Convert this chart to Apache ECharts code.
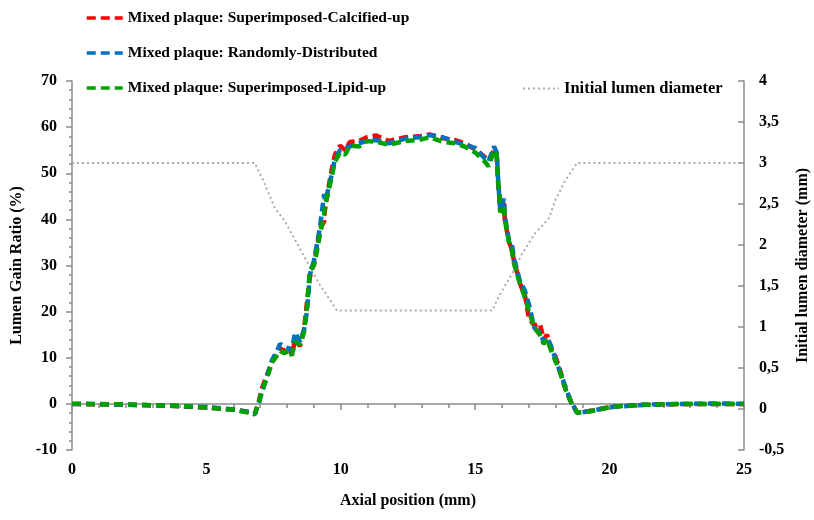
<!DOCTYPE html>
<html lang="en">
<head>
  <meta charset="UTF-8">
  <title>Lumen gain ratio</title>
  <style>
    html, body { margin: 0; padding: 0; background: #fff; }
    #main { width: 814px; height: 520px; }
  </style>
</head>
<body>
  <div id="main"></div>
  <script src="https://cdn.jsdelivr.net/npm/echarts@6/dist/echarts.min.js"></script>
  <script>
    // axial positions (mm), shared by the three plaque curves
    var pos = [0, 1, 2, 3, 4, 5, 6, 6.6, 6.8, 6.95,
      7.07, 7.25, 7.44, 7.63, 7.74, 7.89, 8.07, 8.18, 8.3, 8.48,
      8.63, 8.74, 8.85, 9.0, 9.11, 9.23, 9.38, 9.41, 9.56, 9.67,
      9.78, 9.97, 10.16, 10.34, 10.68, 10.97, 11.3, 11.8, 12.4, 12.9,
      13.3, 13.8, 14.25, 14.6, 15.0, 15.36, 15.5, 15.7, 15.8, 15.85,
      15.9, 15.93, 16.07, 16.1, 16.18, 16.26, 16.37, 16.44, 16.56, 16.67,
      16.85, 17.0, 17.2, 17.4, 17.55, 17.67, 17.86, 17.97, 18.15, 18.34,
      18.53, 18.79, 19.2, 20.1, 21.3, 22, 23, 24, 25];

    // lumen gain ratio (%)
    var calcified = [0, -0.1, -0.2, -0.3, -0.5, -0.8, -1.2, -1.8, -2.2, 0.5,
      3.5, 6.2, 9, 11, 12, 11.5, 12.5, 10.5, 14, 12.5,
      16, 22, 27.5, 30.5, 34, 38, 39.5, 42, 47.5, 51,
      54, 56, 55, 56.8, 57, 57.8, 58.2, 57, 57.8, 58,
      58.4, 57.6, 57.2, 56.5, 55.2, 53.5, 52.8, 55, 54, 48,
      45, 42.5, 43.5, 40, 37.5, 35, 33.5, 31, 28.5, 26,
      23.5, 18.5, 17, 17.5, 14, 15, 11.5, 10.5, 7.5, 3.5,
      0.8, -1.9, -1.6, -0.6, -0.2, -0.1, 0, 0, 0];
    var randomly = [0, 0, -0.2, -0.3, -0.5, -0.7, -1.2, -1.8, -2.3, 0.2,
      2.5, 6, 9.5, 11.5, 13, 12.5, 12, 11.5, 15.5, 13.5,
      16, 20, 28, 31, 34.5, 38.5, 45.5, 44, 47, 50,
      53, 55, 55.5, 55.8, 56.5, 57, 57.2, 56.5, 57.5, 57.8,
      58.3, 57.8, 56.8, 56.2, 55.5, 53.2, 52.5, 55.8, 54.5, 49,
      44.5, 42, 44.5, 41, 38, 35.5, 34.5, 31.5, 29, 26.5,
      24.5, 21.5, 16.5, 15.5, 13.5, 14.5, 12, 10, 7, 4,
      1, -2, -1.6, -0.7, -0.2, -0.1, 0, 0.1, 0];
    var lipid = [0, -0.1, -0.1, -0.3, -0.4, -0.8, -1.3, -1.9, -2.2, 0.3,
      3, 5.5, 9, 10.5, 11.5, 11, 11.5, 10.5, 13.5, 12.8,
      15.5, 21, 29, 30, 33, 37, 41, 43, 46.5, 49.5,
      52.5, 54.5, 54, 56, 55.8, 57, 56.8, 56.2, 57, 57.2,
      57.8, 56.8, 56.5, 55.8, 54.5, 52.5, 51.5, 55, 54, 48.5,
      45, 41.5, 43, 40, 37.5, 35, 33, 30.5, 28, 26,
      23, 20, 16.5, 15, 13, 14, 11, 9.5, 7, 3.5,
      0.8, -1.9, -1.7, -0.6, -0.2, -0.1, 0, 0, 0];

    // initial lumen diameter (mm)
    var diamPos = [0, 6.8, 7.07, 7.55, 7.92, 8.67, 9.19, 9.86, 15.63, 15.89,
      16.37, 16.74, 17.22, 17.75, 17.97, 18.34, 18.79, 25];
    var diam = [3, 3, 2.82, 2.45, 2.29, 1.84, 1.53, 1.2, 1.2, 1.38,
      1.65, 1.89, 2.14, 2.33, 2.54, 2.78, 3, 3];

    var names = ['Mixed plaque: Superimposed-Calcified-up',
      'Mixed plaque: Randomly-Distributed',
      'Mixed plaque: Superimposed-Lipid-up',
      'Initial lumen diameter'];

    function pairs(xs, ys) {
      return xs.map(function (x, i) { return [x, ys[i]]; });
    }

    var font = 'Liberation Serif';
    var axisGray = '#8c8c8c';
    var labelStyle = { fontFamily: font, fontWeight: 'bold', fontSize: 16, color: '#000' };
    var legendText = { fontFamily: font, fontWeight: 'bold', fontSize: 15.5, color: '#000' };

    var chart = echarts.init(document.getElementById('main'));

    function curve(name, data, color) {
      return {
        name: name,
        type: 'line',
        data: data,
        xAxisIndex: 0,
        yAxisIndex: 0,
        symbol: 'none',
        lineStyle: { color: color, width: 4.5, type: [9, 5] },
        itemStyle: { color: color },
        animation: false
      };
    }

    function legendAt(name, left, top, size, lineW) {
      return {
        data: [name], left: left, top: top,
        itemWidth: 36, itemHeight: 10, itemGap: 0,
        itemStyle: { opacity: 0 },
        lineStyle: { width: lineW },
        textStyle: Object.assign({}, legendText, { fontSize: size })
      };
    }

    var option = {
      backgroundColor: '#fff',
      animation: false,
      legend: [
        legendAt(names[0], 80, 5, 15.5, 3.5),
        legendAt(names[1], 80, 40, 15.5, 3.5),
        legendAt(names[2], 80, 75, 15.5, 3.5),
        legendAt(names[3], 517, 75, 16.5, 2)
      ],
      grid: { left: 72, right: 70, top: 81, bottom: 70, containLabel: false, outerBoundsMode: 'none' },
      xAxis: [
        {
          type: 'value', min: 0, max: 25, interval: 5,
          position: 'bottom',
          axisLine: { show: false, onZero: false },
          axisTick: { show: false },
          splitLine: { show: false },
          axisLabel: Object.assign({ margin: 12 }, labelStyle),
          name: 'Axial position (mm)',
          nameLocation: 'middle',
          nameGap: 43,
          nameTextStyle: { fontFamily: font, fontWeight: 'bold', fontSize: 16, color: '#000' }
        },
        {
          type: 'value', min: 0, max: 25, interval: 5,
          position: 'bottom',
          axisLine: { show: true, onZero: true, onZeroAxisIndex: 0, lineStyle: { color: axisGray, width: 1.5 } },
          axisTick: { show: true, length: 6, inside: false, lineStyle: { color: axisGray, width: 1.5 } },
          minorTick: { show: true, splitNumber: 5, length: 4, lineStyle: { color: axisGray, width: 1.5 } },
          splitLine: { show: false },
          axisLabel: { show: false }
        }
      ],
      yAxis: [
        {
          type: 'value', min: -10, max: 70, interval: 10,
          position: 'left',
          axisLine: { show: true, onZero: false, lineStyle: { color: axisGray, width: 1.5 } },
          axisTick: { show: true, length: 6, lineStyle: { color: axisGray, width: 1.5 } },
          minorTick: { show: true, splitNumber: 5, length: 3, lineStyle: { color: axisGray, width: 1.5 } },
          splitLine: { show: false },
          axisLabel: Object.assign({ margin: 15 }, labelStyle),
          name: 'Lumen Gain Ratio (%)',
          nameLocation: 'middle',
          nameRotate: 90,
          nameGap: 46,
          nameTextStyle: { fontFamily: font, fontWeight: 'bold', fontSize: 16, color: '#000' }
        },
        {
          type: 'value', min: -0.5, max: 4, interval: 0.5,
          position: 'right',
          axisLine: { show: true, onZero: false, lineStyle: { color: axisGray, width: 1.5 } },
          axisTick: { show: true, length: 6, inside: true, lineStyle: { color: axisGray, width: 1.5 } },
          splitLine: { show: false },
          axisLabel: Object.assign({
            margin: 15,
            formatter: function (v) { return String(v).replace('.', ','); }
          }, labelStyle),
          name: 'Initial lumen diameter (mm)',
          nameLocation: 'middle',
          nameRotate: 90,
          nameGap: 50,
          nameTextStyle: { fontFamily: font, fontWeight: 'bold', fontSize: 16, color: '#000' }
        }
      ],
      series: [
        {
          name: names[3],
          type: 'line',
          data: pairs(diamPos, diam),
          xAxisIndex: 0,
          yAxisIndex: 1,
          symbol: 'none',
          lineStyle: { color: '#ababab', width: 2, type: [2, 3] },
          itemStyle: { color: '#ababab' },
          z: 1
        },
        curve(names[0], pairs(pos, calcified), '#ff0000'),
        curve(names[1], pairs(pos, randomly), '#0070c0'),
        curve(names[2], pairs(pos, lipid), '#00a000')
      ]
    };

    chart.setOption(option);
  </script>
</body>
</html>
